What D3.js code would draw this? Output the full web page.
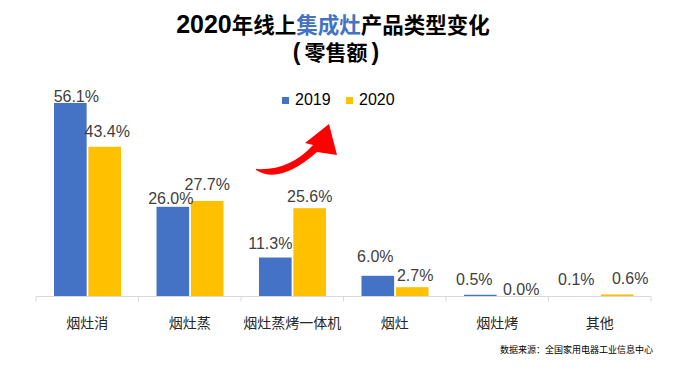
<!DOCTYPE html>
<html><head><meta charset="utf-8">
<script src="https://cdn.jsdelivr.net/npm/d3@7"></script>
<style>body{margin:0;background:#fff}svg{display:block}</style>
</head><body>
<svg id="c" width="690" height="375"></svg>
<script>
const categories = ["烟灶消","烟灶蒸","烟灶蒸烤一体机","烟灶","烟灶烤","其他"];
const seriesNames = ["2019","2020"];
const values2019 = [56.1, 26.0, 11.3, 6.0, 0.5, 0.1];
const values2020 = [43.4, 27.7, 25.6, 2.7, 0.0, 0.6];
const yTicks = [0, 60];
// manual label nudges (dx, dy) as in the reference chart
const nudge2019 = [[6,5],[-2,3],[-5,-3],[-2.5,-8],[-6,-4],[-6.5,-5]];
const nudge2020 = [[2.5,-4],[0,-5],[0,0],[3,0],[6.5,4],[13,-4]];

const colors = {"2019":"#4472C4","2020":"#FFC000"};
const svg = d3.select("#c");

const x0 = d3.scaleBand().domain(categories).range([36, 651]);
const x1 = d3.scaleBand().domain(seriesNames).range([18, 85]).paddingInner(0.05);
const y = d3.scaleLinear().domain(d3.extent(yTicks)).range([296.5, 89.5]);

const rows = categories.map((c,i)=>({c, vals:[
  {s:"2019", v:values2019[i], n:nudge2019[i]},
  {s:"2020", v:values2020[i], n:nudge2020[i]}]}));

const g = svg.append("g");
const grp = g.selectAll("g.cat").data(rows).join("g")
  .attr("transform", d=>`translate(${x0(d.c)},0)`);
grp.selectAll("rect").data(d=>d.vals).join("rect")
  .attr("x", d=>x1(d.s)).attr("width", x1.bandwidth())
  .attr("y", d=>y(d.v)).attr("height", d=>y(0)-y(d.v))
  .attr("fill", d=>colors[d.s]);
grp.selectAll("text").data(d=>d.vals).join("text")
  .attr("x", d=>x1(d.s)+x1.bandwidth()/2+d.n[0])
  .attr("y", d=>y(d.v)-6+d.n[1])
  .attr("text-anchor","middle")
  .attr("font-family","'Liberation Sans', Arial, sans-serif")
  .attr("font-size",16).attr("fill","#404040")
  .text(d=>d.v.toFixed(1)+"%");

// x axis
const axis = d3.axisBottom(x0).tickSize(0).tickPadding(0);
const ax = svg.append("g").attr("transform","translate(0,296.5)").call(axis);
ax.select(".domain").attr("stroke","#d9d9d9").attr("d","M36,0H651");
ax.selectAll(".tick text").attr("y",31).attr("dy",0)
  .attr("font-family","'Noto Sans CJK SC', sans-serif").attr("font-size",14).attr("fill","#262626");
const bounds = categories.map(c=>x0(c)).concat([x0.range()[1]]);
ax.selectAll("line.bd").data(bounds).join("line").attr("class","bd")
  .attr("x1",d=>d).attr("x2",d=>d).attr("y1",0).attr("y2",5).attr("stroke","#d9d9d9");

// title
const t1 = svg.append("text").attr("x",333).attr("y",33).attr("text-anchor","middle")
  .attr("font-family","'Noto Sans CJK SC', sans-serif").attr("font-weight","bold").attr("font-size",21.5).attr("fill","#000");
t1.append("tspan").attr("font-family","'Liberation Sans', Arial, sans-serif").attr("font-size",25).text("2020");
t1.append("tspan").text("年线上");
t1.append("tspan").attr("fill","#4472C4").text("集成灶");
t1.append("tspan").text("产品类型变化");
const t2 = svg.append("text").attr("x",336).attr("y",60).attr("text-anchor","middle")
  .attr("font-family","'Noto Sans CJK SC', sans-serif").attr("font-weight","bold").attr("font-size",21).attr("fill","#000");
t2.append("tspan").attr("font-family","'Liberation Sans', Arial, sans-serif").attr("font-size",23).text("(");
t2.append("tspan").attr("dx",4).text("零售额");
t2.append("tspan").attr("dx",4).attr("font-family","'Liberation Sans', Arial, sans-serif").attr("font-size",23).text(")");

// legend
const leg = svg.append("g");
const legX = [282, 346];
seriesNames.forEach((s,i)=>{
  leg.append("rect").attr("x",legX[i]).attr("y",97).attr("width",7).attr("height",7).attr("fill",colors[s]);
  leg.append("text").attr("x",legX[i]+13).attr("y",105)
    .attr("font-family","'Liberation Sans', Arial, sans-serif").attr("font-size",16).attr("fill","#000").text(s);
});

// red arrow
svg.append("path")
  .attr("d","M256,169 Q289.5,171 313,145 L305,143 L329,124 L337,155 L317,152 Q279.5,185 256,170 Z")
  .attr("fill","#FF0000");

// source
svg.append("text").attr("x",653).attr("y",353).attr("text-anchor","end")
  .attr("font-family","'Noto Sans CJK SC', sans-serif").attr("font-size",9).attr("fill","#000")
  .text("数据来源：全国家用电器工业信息中心");
</script>
</body></html>
